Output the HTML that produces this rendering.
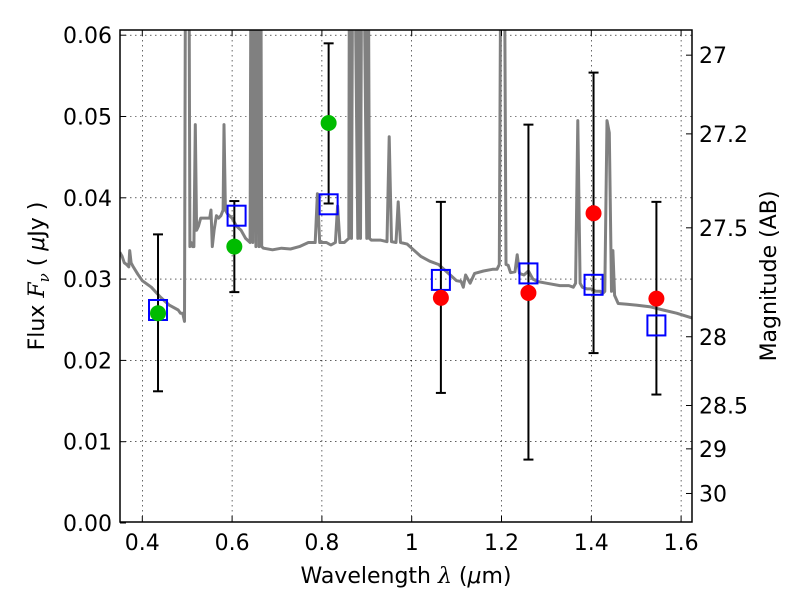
<!DOCTYPE html>
<html><head><meta charset="utf-8"><style>
body{margin:0;background:#fff;}
svg{display:block;font-family:"DejaVu Sans","Liberation Sans",sans-serif;}
</style></head><body>
<svg id="chart" width="800" height="600">
<defs><clipPath id="clip"><rect x="120" y="30" width="572" height="492"/></clipPath></defs>
<rect x="0" y="0" width="800" height="600" fill="#fff"/>
<g id="grid"></g>
<g id="spec" clip-path="url(#clip)"></g>
<g id="marks" clip-path="url(#clip)"></g>
<rect x="120" y="30" width="572" height="492" fill="none" stroke="#000" stroke-width="1.5"/>
<g id="axes"></g>
<text x="406" y="583" font-size="22" text-anchor="middle">Wavelength  <tspan font-family="DejaVu Serif,serif" font-style="italic">λ</tspan> (<tspan font-style="italic">μ</tspan>m)</text>
<text transform="translate(44,276) rotate(-90)" font-size="22" text-anchor="middle">Flux  <tspan font-family="DejaVu Serif,serif" font-style="italic">F</tspan><tspan font-family="DejaVu Serif,serif" font-style="italic" font-size="15" dy="5">ν</tspan><tspan dy="-5">  ( </tspan><tspan font-style="italic">μ</tspan>Jy )</text>
<text transform="translate(776,276) rotate(-90)" font-size="22" text-anchor="middle">Magnitude (AB)</text>
</svg>
<script>
const xTicks=[0.4,0.6,0.8,1.0,1.2,1.4,1.6];
const xTickLabels=["0.4","0.6","0.8","1","1.2","1.4","1.6"];
const yTicks=[0,0.01,0.02,0.03,0.04,0.05,0.06];
const yTickLabels=["0.00","0.01","0.02","0.03","0.04","0.05","0.06"];
const magTicks=[27,27.2,27.5,28,28.5,29,30];
const magTickLabels=["27","27.2","27.5","28","28.5","29","30"];
const specWave=[0.35,0.355,0.36,0.365,0.37,0.372,0.375,0.38,0.39,0.40,0.42,0.44,0.46,0.48,0.485,0.49,0.494,0.497,0.503,0.506,0.509,0.512,0.515,0.518,0.521,0.525,0.53,0.54,0.55,0.553,0.556,0.56,0.565,0.57,0.575,0.58,0.582,0.585,0.59,0.60,0.61,0.62,0.63,0.64,0.643,0.646,0.65,0.653,0.656,0.66,0.663,0.666,0.67,0.69,0.71,0.73,0.75,0.77,0.785,0.79,0.795,0.81,0.82,0.83,0.835,0.84,0.85,0.86,0.862,0.866,0.87,0.88,0.882,0.886,0.89,0.9,0.902,0.906,0.91,0.93,0.945,0.95,0.955,0.965,0.97,0.975,0.99,1.00,1.02,1.04,1.06,1.08,1.10,1.11,1.115,1.12,1.13,1.14,1.16,1.18,1.19,1.195,1.20,1.205,1.21,1.215,1.22,1.23,1.235,1.24,1.25,1.26,1.27,1.28,1.30,1.33,1.35,1.36,1.365,1.37,1.375,1.38,1.39,1.40,1.41,1.42,1.425,1.43,1.435,1.44,1.445,1.448,1.452,1.46,1.48,1.50,1.53,1.56,1.59,1.625];
const specFlux=[0.0333,0.0328,0.032,0.0318,0.0315,0.0335,0.032,0.0315,0.0306,0.0298,0.029,0.0278,0.0268,0.0262,0.0258,0.0258,0.0248,0.09,0.09,0.034,0.0345,0.034,0.034,0.049,0.036,0.0365,0.0375,0.0375,0.0375,0.0385,0.034,0.036,0.0378,0.0375,0.0378,0.0385,0.049,0.0385,0.038,0.0375,0.0365,0.036,0.035,0.0345,0.09,0.0345,0.09,0.034,0.09,0.034,0.09,0.034,0.0338,0.0336,0.0338,0.0337,0.034,0.0345,0.0345,0.0405,0.0345,0.0345,0.0342,0.0345,0.039,0.0345,0.0345,0.035,0.09,0.035,0.09,0.035,0.09,0.035,0.09,0.035,0.09,0.035,0.0348,0.0348,0.0346,0.0475,0.0346,0.0345,0.0395,0.0345,0.0343,0.0338,0.0328,0.0322,0.0318,0.0308,0.0298,0.0297,0.029,0.0305,0.0295,0.0307,0.031,0.0312,0.0312,0.0318,0.09,0.09,0.0318,0.0317,0.0308,0.0309,0.033,0.0307,0.0305,0.031,0.030,0.0297,0.0295,0.0292,0.0292,0.029,0.0295,0.0495,0.0295,0.029,0.0288,0.0288,0.0285,0.0285,0.0282,0.0285,0.0495,0.048,0.0285,0.0335,0.028,0.027,0.0269,0.0268,0.0266,0.0262,0.0258,0.0252,0.0248];
const photWave=[0.435,0.605,0.815,1.065,1.26,1.405,1.545];
const photFlux=[0.0258,0.034,0.0492,0.0277,0.0283,0.0381,0.0276];
const errLow=[0.0162,0.0284,0.0393,0.016,0.0078,0.0209,0.0158];
const errHigh=[0.0355,0.0396,0.059,0.0395,0.049,0.0554,0.0395];
const modelWave=[0.435,0.61,0.815,1.065,1.26,1.405,1.545];
const modelFlux=[0.0262,0.0378,0.0392,0.0299,0.0307,0.0293,0.0243];
const pointColors=["#00bb00","#00bb00","#00bb00","#ff0000","#ff0000","#ff0000","#ff0000"];

const NS="http://www.w3.org/2000/svg";
const X=v=>-37.3+v*449;
const Y=v=>523-v*8130;
const M=m=>Y(Math.pow(10,(23.9-m)/2.5));
function mk(tag,attrs,parent){const e=document.createElementNS(NS,tag);for(const k in attrs)e.setAttribute(k,attrs[k]);parent.appendChild(e);return e;}
const grid=document.getElementById('grid'),axes=document.getElementById('axes'),spec=document.getElementById('spec'),marks=document.getElementById('marks');

xTicks.forEach((t,i)=>{const x=X(t);
 const g=mk('line',{x1:x,x2:x,y1:30,y2:522,stroke:'#000','stroke-width':0.6,'stroke-dasharray':'1.5,3.5'},grid);
 
 
 mk('line',{x1:x,x2:x,y1:522,y2:516,stroke:'#000'},axes);
 mk('line',{x1:x,x2:x,y1:30,y2:36,stroke:'#000'},axes);
 const l=mk('text',{x:x,y:550,'font-size':22,'text-anchor':'middle'},axes);l.textContent=xTickLabels[i];
 
 
});
yTicks.forEach((t,i)=>{const y=Y(t);
 if(i>0){const g=mk('line',{x1:120,x2:692,y1:y,y2:y,stroke:'#000','stroke-width':0.6,'stroke-dasharray':'1.5,3.5'},grid);
 
 }
 mk('line',{x1:120,x2:126,y1:y,y2:y,stroke:'#000'},axes);
 const l=mk('text',{x:112,y:y+8,'font-size':22,'text-anchor':'end'},axes);l.textContent=yTickLabels[i];
 
 
});
magTicks.forEach((m,i)=>{const y=M(m);
 mk('line',{x1:686,x2:692,y1:y,y2:y,stroke:'#000'},axes);
 const l=mk('text',{x:699,y:y+8,'font-size':22},axes);l.textContent=magTickLabels[i];
 
 
});
const sp=mk('polyline',{points:specWave.map((w,i)=>X(w).toFixed(1)+','+Y(specFlux[i]).toFixed(1)).join(' '),fill:'none',stroke:'#808080','stroke-width':3,'stroke-linejoin':'round'},spec);


photWave.forEach((w,i)=>{const x=X(w);
 const g=mk('g',{},marks);
 
 
 mk('line',{x1:x,x2:x,y1:Y(errLow[i]),y2:Y(errHigh[i]),stroke:'#000','stroke-width':2},g);
 mk('line',{x1:x-5,x2:x+5,y1:Y(errLow[i]),y2:Y(errLow[i]),stroke:'#000','stroke-width':2},g);
 mk('line',{x1:x-5,x2:x+5,y1:Y(errHigh[i]),y2:Y(errHigh[i]),stroke:'#000','stroke-width':2},g);
});
modelWave.forEach((w,i)=>{
 const r=mk('rect',{x:X(w)-9,y:Y(modelFlux[i])-10,width:18,height:20,fill:'none',stroke:'#0000ff','stroke-width':2},marks);
 
 
});
photWave.forEach((w,i)=>{
 const c=mk('circle',{cx:X(w),cy:Y(photFlux[i]),r:8,fill:pointColors[i]},marks);
 
 
});
</script>
</body></html>
